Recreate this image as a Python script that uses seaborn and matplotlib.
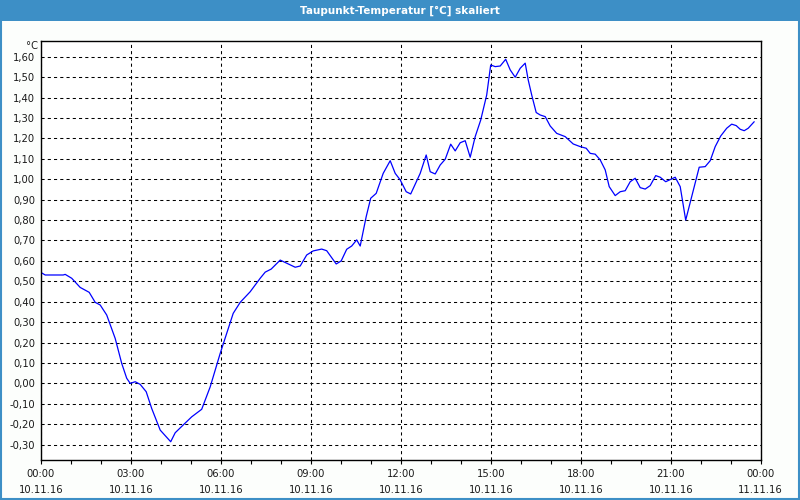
import numpy as np
import pandas as pd
import matplotlib
matplotlib.use("Agg")
import matplotlib.pyplot as plt
import seaborn as sns
from matplotlib.patches import Rectangle
from matplotlib.ticker import FixedLocator, FuncFormatter, MultipleLocator

# ---- data (minutes after 10.11.16 00:00, dew point in °C) ----
minutes = [0, 9, 45, 49, 62, 79, 97, 109, 119, 132, 149, 162, 172, 179, 189, 199,
           211, 222, 239, 260, 269, 285, 302, 322, 339, 359, 385, 399, 419, 439,
           449, 461, 479, 509, 519, 532, 545, 562, 572, 591, 601, 612, 622, 632,
           639, 651, 660, 671, 685, 699, 709, 719, 731, 740, 759, 771, 779, 789,
           799, 809, 820, 829, 839, 849, 859, 869, 880, 892, 900, 909, 919, 930,
           939, 949, 959, 969, 975, 982, 991, 999, 1009, 1019, 1032, 1049, 1065,
           1079, 1091, 1099, 1109, 1119, 1129, 1137, 1149, 1159, 1169, 1179, 1189,
           1199, 1209, 1219, 1230, 1239, 1250, 1269, 1279, 1290, 1302, 1317, 1329,
           1339, 1349, 1360, 1372, 1382, 1391, 1399, 1407, 1415, 1427]
dewpoint = [0.544, 0.531, 0.531, 0.534, 0.515, 0.470, 0.446, 0.397, 0.384, 0.335,
            0.220, 0.098, 0.025, 0.000, 0.008, -0.005, -0.041, -0.123, -0.229,
            -0.286, -0.242, -0.204, -0.164, -0.127, -0.017, 0.147, 0.343, 0.397,
            0.449, 0.515, 0.545, 0.560, 0.604, 0.569, 0.575, 0.629, 0.649, 0.658,
            0.650, 0.585, 0.600, 0.657, 0.673, 0.703, 0.673, 0.817, 0.907, 0.931,
            1.029, 1.091, 1.029, 0.997, 0.939, 0.928, 1.029, 1.119, 1.037, 1.026,
            1.070, 1.098, 1.172, 1.139, 1.179, 1.189, 1.108, 1.209, 1.290, 1.413,
            1.560, 1.552, 1.555, 1.588, 1.536, 1.500, 1.544, 1.569, 1.487, 1.413,
            1.327, 1.315, 1.307, 1.261, 1.225, 1.209, 1.173, 1.160, 1.152, 1.127,
            1.123, 1.095, 1.046, 0.964, 0.920, 0.939, 0.944, 0.988, 1.005, 0.959,
            0.952, 0.969, 1.018, 1.010, 0.988, 1.010, 0.964, 0.800, 0.915, 1.059,
            1.062, 1.091, 1.160, 1.212, 1.250, 1.270, 1.263, 1.245, 1.238, 1.250,
            1.282]

x_tick_hours = [0, 3, 6, 9, 12, 15, 18, 21, 24]
x_tick_labels = ["00:00\n10.11.16", "03:00\n10.11.16", "06:00\n10.11.16",
                 "09:00\n10.11.16", "12:00\n10.11.16", "15:00\n10.11.16",
                 "18:00\n10.11.16", "21:00\n10.11.16", "00:00\n11.11.16"]
y_ticks = [-0.3, -0.2, -0.1, 0.0, 0.1, 0.2, 0.3, 0.4, 0.5, 0.6, 0.7, 0.8,
           0.9, 1.0, 1.1, 1.2, 1.3, 1.4, 1.5, 1.6]
title = "Taupunkt-Temperatur [°C] skaliert"
unit = "°C"

df = pd.DataFrame({"hours": np.array(minutes) / 60.0, "value": dewpoint})

sns.set_theme(style="white")
plt.rcParams["font.family"] = ["DejaVu Sans"]

BLUE_BAR = "#3d8fc6"
fig = plt.figure(figsize=(8, 5), dpi=100, facecolor="#fcfefc")
ax = fig.add_axes([40.7 / 800, 1 - 460.3 / 500, 720 / 800, (460.3 - 40.7) / 500])
ax.set_facecolor("white")

sns.lineplot(data=df, x="hours", y="value", ax=ax, color="#0000ff",
             linewidth=0.9, estimator=None, sort=False)

ax.set_xlim(0, 24)
ax.set_ylim(-0.377, 1.679)
ax.set_xlabel("")
ax.set_ylabel("")

ax.xaxis.set_major_locator(FixedLocator(x_tick_hours))
ax.set_xticklabels(x_tick_labels, fontsize=7.2, color="#1a1a1a", linespacing=1.75)
ax.xaxis.set_minor_locator(MultipleLocator(1))
ax.tick_params(axis="x", which="both", direction="out", length=3, width=0.8,
               color="black", pad=3, bottom=True)
ax.yaxis.set_major_locator(FixedLocator(y_ticks))
ax.yaxis.set_major_formatter(FuncFormatter(lambda v, p: f"{v:.2f}".replace(".", ",").replace("-0,00", "0,00")))
ax.tick_params(axis="y", which="both", length=0, pad=4, labelsize=7.2, labelcolor="#1a1a1a")

ax.grid(True, which="major", color="black", linewidth=0.75, linestyle=(0, (3, 3)))
for s in ax.spines.values():
    s.set_visible(True)
    s.set_color("black")
    s.set_linewidth(1.0)

ax.text(-0.004, 1.0, unit, transform=ax.transAxes, ha="right", va="top",
        fontsize=7.2, color="#1a1a1a")

# title bar and border
fig.patches.append(Rectangle((0, 1 - 21 / 500), 1, 21 / 500, transform=fig.transFigure,
                             facecolor=BLUE_BAR, edgecolor="none", zorder=0))
fig.patches.append(Rectangle((0.001, 0.002), 0.998, 0.996, transform=fig.transFigure,
                             facecolor="none", edgecolor=BLUE_BAR, linewidth=1.5, zorder=0))
fig.text(0.5, 1 - 10.5 / 500, title, ha="center", va="center", color="white",
         fontsize=7.5, fontweight="bold")

fig.savefig("out.png", dpi=100, facecolor=fig.get_facecolor())
